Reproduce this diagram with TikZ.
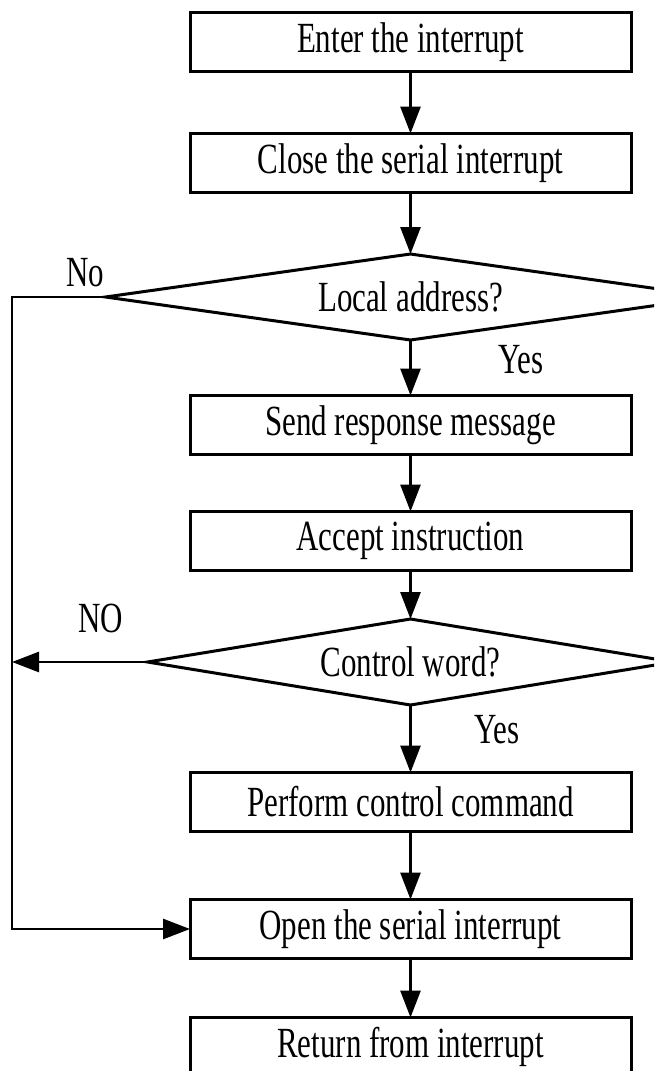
\documentclass[tikz,border=0pt]{standalone}
\usepackage{fontspec}
\setmainfont{Liberation Serif}[FakeStretch=0.72]
\usetikzlibrary{shapes.geometric,arrows.meta}
\begin{document}
\begin{tikzpicture}[x=1pt,y=-1pt,
  every node/.style={font=\fontsize{43}{50}\selectfont},
  procbox/.style={draw,line width=3pt,minimum width=441pt,minimum height=59pt,inner sep=0pt,outer sep=0pt},
  decide/.style={draw,diamond,line width=3pt,inner sep=0pt,outer sep=0pt,aspect=7},
  lbl/.style={inner sep=0pt},
  arr/.style={line width=2.8pt,-{Triangle[length=27pt,width=20pt]}},
  plain/.style={line width=2.8pt,line join=miter}
]
\clip (0,0) rectangle (654,1071);
\fill[white] (0,0) rectangle (654,1071);
\node[procbox] (b1) at (410.5,42) {Enter the interrupt};
\node[procbox] (b2) at (410.5,163) {Close the serial interrupt};
\node[decide,minimum width=610pt,minimum height=86pt] (d1) at (410.5,297) {Local address?};
\node[procbox] (b3) at (410.5,425) {Send response message};
\node[procbox] (b4) at (410.5,541) {Accept instruction};
\node[decide,minimum width=526pt,minimum height=86pt] (d2) at (410.5,662) {Control word?};
\node[procbox] (b5) at (410.5,802) {Perform control command};
\node[procbox] (b6) at (410.5,929) {Open the serial interrupt};
\node[procbox] (b7) at (410.5,1047) {Return from interrupt};
\node[lbl] (no1) at (85,273) {No};
\node[lbl] (no2) at (101,618) {NO};
\node[lbl] (y1) at (521,360) {Yes};
\node[lbl] (y2) at (497,730) {Yes};
\coordinate (l1) at (12,297);
\coordinate (l2) at (12,662);
\draw[arr] (b1) -- (b2);
\draw[arr] (b2) -- (d1);
\draw[arr] (d1) -- (b3);
\draw[arr] (b3) -- (b4);
\draw[arr] (b4) -- (d2);
\draw[arr] (d2) -- (b5);
\draw[arr] (b5) -- (b6);
\draw[arr] (b6) -- (b7);
\draw[arr] (d2.west) -- (l2);
\draw[plain,-{Triangle[length=27pt,width=20pt]}] (d1.west) -- (l1) |- (b6.west);
\end{tikzpicture}
\end{document}
